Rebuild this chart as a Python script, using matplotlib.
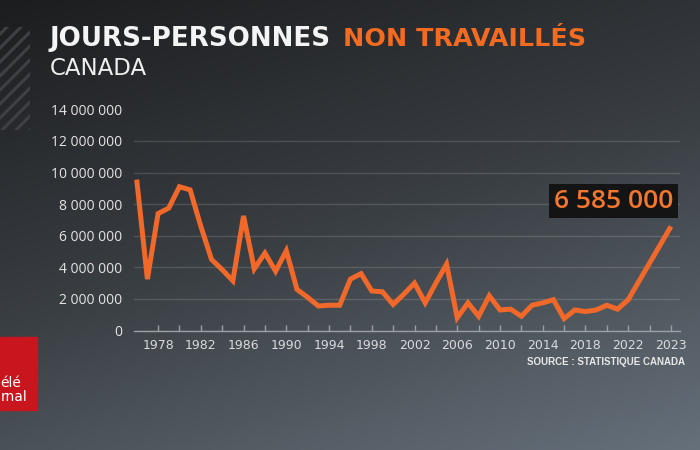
import numpy as np
import matplotlib.pyplot as plt
from matplotlib.colors import LinearSegmentedColormap
from matplotlib.patches import Rectangle

# jours-personnes non travaillés, Canada (en millions)
years = list(range(1976, 2024))
jours_m = [9.55, 3.25, 7.4, 7.75, 9.1, 8.9, 6.6, 4.5, 3.85, 3.15,
           7.25, 3.9, 4.9, 3.75, 5.05, 2.6, 2.1, 1.55, 1.6, 1.6,
           3.25, 3.6, 2.5, 2.45, 1.65, 2.3, 3.0, 1.75, 3.0, 4.2,
           0.8, 1.75, 0.9, 2.2, 1.3, 1.35, 0.9, 1.6, 1.75, 1.95,
           0.75, 1.3, 1.2, 1.3, 1.6, 1.35, 1.95, 6.585]
jours = np.array(jours_m) * 1e6

# le graphique d'origine étire le dernier segment : 2023 est placé au bout de l'axe
x_pos = np.array(years, dtype=float)
x_pos[-1] = 2026

tick_pos = np.arange(1978, 2027, 2)
label_pos = list(range(1978, 2023, 4)) + [2026]
label_txt = [str(a) for a in range(1978, 2023, 4)] + ['2023']
y_ticks = np.arange(0, 14e6 + 1, 2e6)

W, H = 700, 450
def fx(x):
    return x / W
def fy(y):
    return 1 - y / H

fig = plt.figure(figsize=(7, 4.5), dpi=100)

# fond dégradé
bg = fig.add_axes([0, 0, 1, 1])
yy, xx = np.mgrid[0:1:200j, 0:1:300j]
grad = 0.68 * yy + 0.32 * xx
fond = LinearSegmentedColormap.from_list('fond', ['#1c1d1f', '#3a3f44', '#66707a'])
bg.imshow(grad, cmap=fond, aspect='auto', extent=[0, 1, 0, 1], vmin=0, vmax=1)
bg.axis('off')

# rayures en haut à gauche
sax = fig.add_axes([0, fy(130), fx(30), 103 / H])
sax.set_xlim(0, 30)
sax.set_ylim(0, 103)
sax.axis('off')
for c in np.arange(-30, 110, 14):
    sax.plot([0, 30], [c, c + 30], color='#3e4044', lw=2.2)

# graphique
ax = fig.add_axes([fx(133.5), fy(330.5), 546 / W, 221.2 / H])
ax.patch.set_alpha(0)
ax.plot(x_pos, jours, color='#f0682a', lw=3.6, solid_joinstyle='miter',
        solid_capstyle='butt', clip_on=False, zorder=3)
ax.set_xlim(1975.7, 2026.8)
ax.set_ylim(0, 14e6)

ylab = ['{:,}'.format(int(v)).replace(',', ' ') for v in y_ticks]
ax.set_yticks(y_ticks, ylab)
ax.tick_params(axis='y', length=0, pad=8, labelcolor='#e4e4e4', labelsize=10)
for lbl in ax.get_yticklabels():
    lbl.set_family('Open Sans')
ax.yaxis.grid(True, color='#ffffff', alpha=0.14, lw=1)
ax.get_ygridlines()[-1].set_visible(False)

ax.set_xticks(label_pos, label_txt)
ax.set_xticks(tick_pos, minor=True)
ax.tick_params(axis='x', which='both', direction='in', length=4, width=1,
               color='#9aa0a5', pad=6, labelcolor='#d9dcde', labelsize=9)

for s in ['top', 'right', 'left']:
    ax.spines[s].set_visible(False)
ax.spines['bottom'].set_color('#9aa0a5')
ax.spines['bottom'].set_linewidth(1)

# titres
fig.text(fx(50), fy(46), 'JOURS-PERSONNES', fontsize=18.8, fontweight='bold',
         color='#f4f4f4', family='DejaVu Sans')
fig.text(fx(343), fy(46), 'NON TRAVAILLÉS', fontsize=18.3, fontweight='bold',
         color='#f26b21', family='DejaVu Sans')
fig.text(fx(50), fy(75), 'CANADA', fontsize=16.5, color='#eeeeee', family='DejaVu Sans')

fig.text(fx(685), fy(365), 'SOURCE : STATISTIQUE CANADA', ha='right', fontsize=7,
         fontweight='bold', color='#e8e8e8',
         family=['Liberation Sans Narrow', 'Liberation Sans'])

# valeur 2023
fig.text(fx(613.5), fy(201), '6 585 000', ha='center', va='center', fontsize=19,
         color='#f4772f', family='Open Sans', fontweight='semibold',
         bbox=dict(boxstyle='square,pad=0.18', fc='#141414', ec='none'))

# logo (coupé par le bord comme sur l'image)
fig.add_artist(Rectangle((0, fy(410)), fx(37), 73 / H, transform=fig.transFigure,
                         color='#c9151d'))
fig.text(fx(0.5), fy(387), 'élé', ha='left', color='white', fontsize=10)
fig.text(fx(0.5), fy(401), 'rnal', ha='left', color='white', fontsize=10)

fig.savefig('out.png', dpi=100)
